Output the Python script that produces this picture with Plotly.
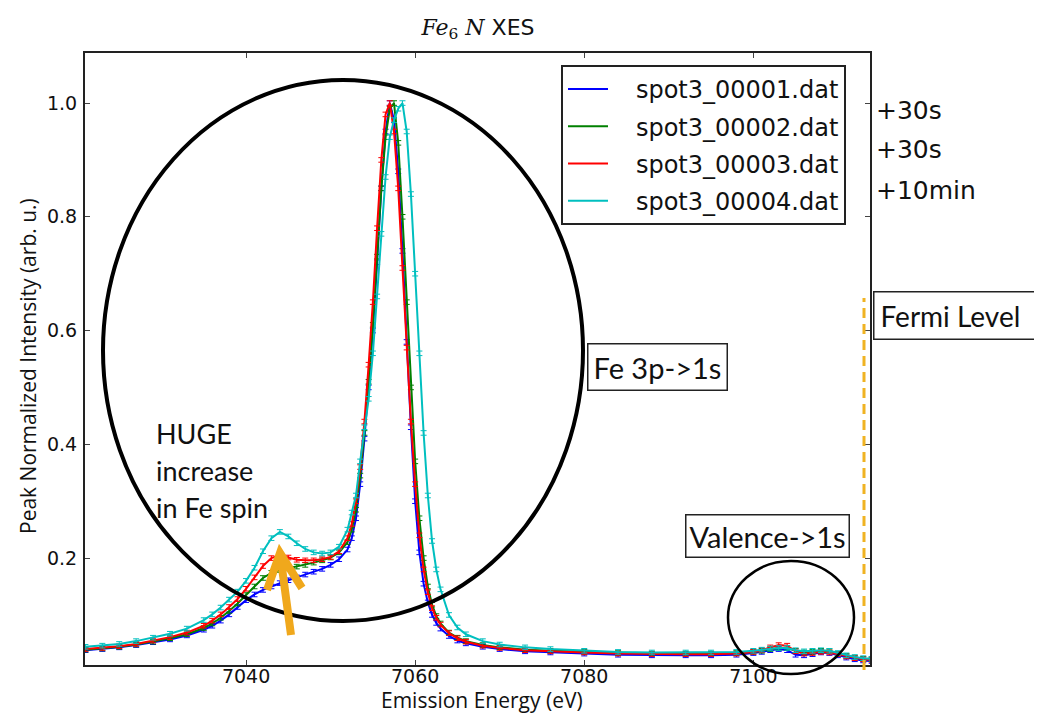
import plotly.graph_objects as go

# ---------------- data ----------------
energy = [7021, 7023, 7025, 7027, 7029, 7031, 7033, 7035, 7036, 7037, 7038, 7039,
          7040, 7041, 7042, 7043, 7044, 7045, 7046, 7047, 7048, 7049, 7050, 7051,
          7052, 7052.5, 7053, 7053.5, 7054, 7054.5, 7055, 7055.5, 7056, 7056.5,
          7057, 7057.5, 7058, 7058.5, 7059, 7059.5, 7060, 7060.5, 7061, 7061.5,
          7062, 7062.5, 7063, 7064, 7065, 7066, 7068, 7070, 7073, 7076, 7080,
          7084, 7088, 7092, 7095, 7098, 7100, 7101, 7102, 7103, 7104, 7105, 7106,
          7107, 7108, 7109, 7110, 7111, 7112, 7113, 7114]

spot1 = [0.038, 0.040, 0.043, 0.047, 0.052, 0.057, 0.064, 0.074, 0.081, 0.090, 0.101, 0.114,
         0.126, 0.136, 0.144, 0.150, 0.156, 0.161, 0.166, 0.171, 0.176, 0.181, 0.188, 0.198,
         0.215, 0.235, 0.27, 0.33, 0.41, 0.50, 0.60, 0.72, 0.85, 0.95,
         1.0, 0.97, 0.88, 0.74, 0.58, 0.43, 0.30, 0.21, 0.155, 0.122,
         0.100, 0.086, 0.076, 0.063, 0.055, 0.050, 0.044, 0.040, 0.036, 0.034, 0.032,
         0.030, 0.029, 0.029, 0.029, 0.030, 0.033, 0.035, 0.038, 0.040, 0.038, 0.030, 0.029,
         0.031, 0.034, 0.033, 0.029, 0.025, 0.022, 0.020, 0.019]

spot2 = [0.039, 0.041, 0.044, 0.048, 0.053, 0.059, 0.066, 0.077, 0.085, 0.095, 0.107, 0.120,
         0.135, 0.150, 0.165, 0.174, 0.179, 0.182, 0.185, 0.188, 0.192, 0.196, 0.201, 0.210,
         0.228, 0.25, 0.285, 0.345, 0.42, 0.51, 0.61, 0.73, 0.85, 0.94,
         0.99, 1.0, 0.93, 0.80, 0.65, 0.50, 0.37, 0.27, 0.20, 0.15,
         0.118, 0.098, 0.085, 0.069, 0.060, 0.054, 0.047, 0.043, 0.039, 0.037, 0.035,
         0.033, 0.032, 0.032, 0.032, 0.033, 0.035, 0.037, 0.040, 0.042, 0.042, 0.037, 0.034,
         0.035, 0.037, 0.036, 0.032, 0.028, 0.025, 0.023, 0.022]

spot3 = [0.040, 0.042, 0.045, 0.049, 0.055, 0.061, 0.069, 0.081, 0.090, 0.101, 0.114, 0.128,
         0.146, 0.166, 0.186, 0.200, 0.205, 0.201, 0.197, 0.196, 0.196, 0.198, 0.202, 0.212,
         0.235, 0.26, 0.30, 0.36, 0.44, 0.54, 0.65, 0.78, 0.90, 0.98,
         1.0, 0.95, 0.85, 0.71, 0.57, 0.44, 0.33, 0.24, 0.18, 0.14,
         0.112, 0.095, 0.083, 0.068, 0.059, 0.053, 0.046, 0.042, 0.038, 0.036, 0.034,
         0.032, 0.031, 0.031, 0.031, 0.032, 0.035, 0.038, 0.043, 0.047, 0.046, 0.036, 0.032,
         0.033, 0.035, 0.034, 0.031, 0.027, 0.024, 0.022, 0.021]

spot4 = [0.044, 0.046, 0.049, 0.054, 0.060, 0.067, 0.076, 0.091, 0.101, 0.113, 0.127, 0.141,
         0.160, 0.183, 0.212, 0.235, 0.246, 0.238, 0.226, 0.216, 0.210, 0.208, 0.210, 0.220,
         0.250, 0.28, 0.31, 0.37, 0.43, 0.48, 0.56, 0.66, 0.77, 0.87,
         0.94, 0.97, 0.99, 1.0, 0.95, 0.84, 0.70, 0.56, 0.42, 0.31,
         0.23, 0.18, 0.145, 0.10, 0.078, 0.066, 0.054, 0.048, 0.043, 0.040, 0.037,
         0.035, 0.034, 0.034, 0.034, 0.035, 0.037, 0.039, 0.041, 0.042, 0.042, 0.038, 0.036,
         0.037, 0.038, 0.037, 0.033, 0.029, 0.026, 0.024, 0.023]

series_names = ["spot3_00001.dat", "spot3_00002.dat", "spot3_00003.dat", "spot3_00004.dat"]
series_values = [spot1, spot2, spot3, spot4]
series_colors = ["#0000ff", "#008000", "#ff0000", "#00bfbf"]
err_size = 0.004

time_labels = ["+30s", "+30s", "+10min"]
x_ticks = [7040, 7060, 7080, 7100]
y_ticks = [0.2, 0.4, 0.6, 0.8, 1.0]

# ---------------- figure ----------------
NBSP = "\u00a0"
fig = go.Figure()
for i, (name, vals, col) in enumerate(zip(series_names, series_values, series_colors)):
    fig.add_trace(go.Scatter(
        x=energy, y=vals, name=NBSP * 3 + name, mode="lines", legendgroup=f"g{i}",
        line=dict(color=col, width=2),
        error_y=dict(type="constant", value=err_size, color=col, thickness=1, width=3),
    ))

W, H = 1042, 713
L, R, T, B = 77, 180, 45, 56
pw, ph = W - L - R, H - T - B


def px(xp):
    return (xp - L) / pw


def py(yp):
    return (H - B - yp) / ph


axis_font = dict(family="DejaVu Sans", size=19, color="#111")
fig.update_layout(
    width=W, height=H,
    margin=dict(l=L, r=R, t=T, b=B),
    paper_bgcolor="white", plot_bgcolor="white",
    showlegend=True,
    title=dict(
        text="<span style='font-family:DejaVu Serif'><i>Fe</i><sub>6</sub> <i>N</i></span> XES",
        x=470 / W, xanchor="center", y=1 - 19 / H, yanchor="middle",
        font=dict(family="DejaVu Sans", size=22, color="#111"),
    ),
    legend=dict(
        x=px(553), y=py(57), xanchor="left", yanchor="top",
        bordercolor="#222", borderwidth=2, bgcolor="white",
        font=dict(family="DejaVu Sans", size=24, color="#111"),
        tracegroupgap=3, itemwidth=40,
    ),
    xaxis=dict(
        range=[7020.95, 7113.8], tickvals=x_ticks, ticks="inside", ticklen=5,
        showline=True, linecolor="#222", linewidth=2, mirror="ticks",
        showgrid=False, zeroline=False, tickfont=axis_font, ticklabelstandoff=-7,
    ),
    yaxis=dict(
        range=[0.012, 1.088], tickvals=y_ticks, tickformat=".1f", ticks="inside", ticklen=5,
        showline=True, linecolor="#222", linewidth=2, mirror="ticks",
        showgrid=False, zeroline=False, tickfont=axis_font, ticklabelstandoff=2,
    ),
)

shapes = [
    dict(type="circle", xref="paper", yref="paper", x0=px(95), x1=px(575), y0=py(613), y1=py(72),
         line=dict(color="black", width=4)),
    dict(type="circle", xref="paper", yref="paper", x0=px(720), x1=px(846), y0=py(666), y1=py(553),
         line=dict(color="black", width=2.5)),
    dict(type="line", xref="paper", yref="paper", x0=px(856), x1=px(856), y0=py(662), y1=py(290),
         line=dict(color="#F0B323", width=3, dash="10px,6px")),
    dict(type="path", xref="paper", yref="paper",
         path=(f"M {px(283)},{py(627)} L {px(272)},{py(545)} "
               f"M {px(259)},{py(582)} L {px(272)},{py(545)} L {px(294)},{py(580)}"),
         line=dict(color="#F0A81C", width=8)),
]
fig.update_layout(shapes=shapes)

ann_font = dict(family="Lato", size=29, color="#111")
annotations = [
    dict(xref="paper", yref="paper", x=px(474), y=py(692), xanchor="center", yanchor="middle",
         text="Emission Energy (eV)", showarrow=False,
         font=dict(family="Open Sans", size=21, color="#111")),
    dict(xref="paper", yref="paper", x=px(20), y=py(358), xanchor="center", yanchor="middle",
         text="Peak Normalized Intensity (arb. u.)", showarrow=False, textangle=-90,
         font=dict(family="Open Sans", size=21, color="#111")),
]
for lbl, yc in zip(time_labels, [102, 141, 183]):
    annotations.append(dict(xref="paper", yref="paper", x=px(866), y=py(yc), xanchor="left",
                            yanchor="middle", text=lbl, showarrow=False,
                            font=dict(family="DejaVu Sans", size=25, color="#111")))
annotations += [
    dict(xref="paper", yref="paper", x=px(865), y=py(307), xanchor="left", yanchor="middle",
         text="Fermi Level" + NBSP * 2, showarrow=False,
         font=dict(family="Lato", size=28, color="#111"), bordercolor="#222",
         borderwidth=1.5, borderpad=6, bgcolor="white"),
    dict(xref="paper", yref="paper", x=px(649), y=py(359), xanchor="center", yanchor="middle",
         text="Fe 3p->1s", showarrow=False, font=ann_font,
         bordercolor="#222", borderwidth=1.5, borderpad=5, bgcolor="white"),
    dict(xref="paper", yref="paper", x=px(759), y=py(528), xanchor="center", yanchor="middle",
         text="Valence->1s", showarrow=False, font=ann_font, bordercolor="#222", borderwidth=1.5,
         borderpad=3, bgcolor="white"),
]
for line_txt, yc in zip(["HUGE", "increase", "in Fe spin"], [425, 462, 499]):
    annotations.append(dict(xref="paper", yref="paper", x=px(146), y=py(yc), xanchor="left",
                            yanchor="middle", text=line_txt, showarrow=False,
                            font=dict(family="Lato", size=27, color="#111")))
fig.update_layout(annotations=annotations)

fig.write_html("out.html")
